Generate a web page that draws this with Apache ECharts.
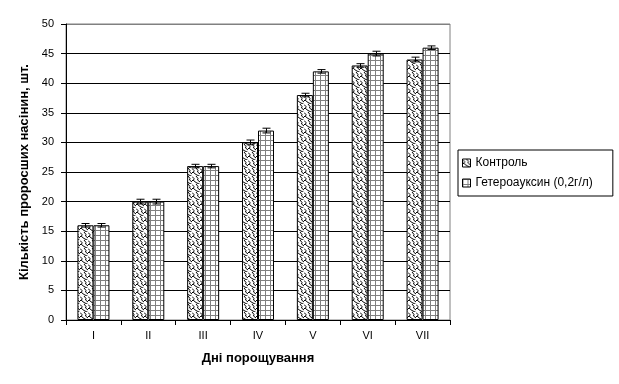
<!DOCTYPE html>
<html><head><meta charset="utf-8">
<script src="https://cdn.jsdelivr.net/npm/echarts@6/dist/echarts.min.js"></script>
<style>html,body{margin:0;padding:0;background:#fff}#c{width:619px;height:384px}</style>
</head><body><div id="c"></div>
<script>
const categories = ['I','II','III','IV','V','VI','VII'];
const control = [16, 20, 26, 30, 38, 43, 44];
const hetero = [16, 20, 26, 32, 42, 45, 46];
const controlErr = [0.3, 0.4, 0.3, 0.4, 0.3, 0.3, 0.4];
const heteroErr = [0.3, 0.4, 0.3, 0.4, 0.3, 0.4, 0.3];
const seriesNames = ['Контроль', 'Гетероауксин (0,2г/л)'];

function wavePattern(){
  const c = document.createElement('canvas'); c.width = 8; c.height = 8;
  const g = c.getContext('2d');
  g.fillStyle = '#fff'; g.fillRect(0,0,8,8);
  g.strokeStyle = '#000'; g.lineWidth = 1;
  g.beginPath();
  g.moveTo(0,0.5); g.lineTo(2,2.5); g.lineTo(1.5,4.5); g.lineTo(4,6.5); g.lineTo(8,8.5);
  g.moveTo(4,0); g.lineTo(6,2.5); g.lineTo(5.5,4); g.lineTo(8,6);
  g.moveTo(0,4.5); g.lineTo(1.5,4.5);
  g.stroke();
  return c;
}
function gridPattern(){
  const c = document.createElement('canvas'); c.width = 5; c.height = 5;
  const g = c.getContext('2d');
  g.fillStyle = '#fff'; g.fillRect(0,0,5,5);
  g.fillStyle = '#808080';
  g.fillRect(0,0,5,1); g.fillRect(0,0,1,5);
  return c;
}
const chart = echarts.init(document.getElementById('c'));
const pats = [{image: wavePattern(), repeat:'repeat'}, {image: gridPattern(), repeat:'repeat'}];
const BW = 16;
function errSeries(vals, errs, off){
  return {
    type:'custom', z:10, silent:true,
    data: vals.map((v,i)=>[i, v, errs[i]]),
    renderItem: function(params, api){
      const i = api.value(0), v = api.value(1), e = api.value(2);
      const top = api.coord([i, v+e]), bot = api.coord([i, v-e]);
      const x = Math.round(top[0] + off) + 0.5;
      const st = {stroke:'#000', lineWidth:1};
      return {type:'group', children:[
        {type:'line', shape:{x1:x, y1:top[1], x2:x, y2:bot[1]}, style:st},
        {type:'line', shape:{x1:x-4, y1:top[1], x2:x+4, y2:top[1]}, style:st},
        {type:'line', shape:{x1:x-4, y1:bot[1], x2:x+4, y2:bot[1]}, style:st}
      ]};
    }
  };
}
const gridColors = ['#000','#000','#000','#000','#000','#000','#000','#000','#000','#000','#808080'];
chart.setOption({
  animation:false,
  textStyle:{fontFamily:'Liberation Sans, Arial, sans-serif'},
  grid:{left:66, top:24, width:384, height:296, show:true, borderColor:'#808080', borderWidth:1, backgroundColor:'transparent'},
  legend:{
    orient:'vertical', left:458, top:150, itemWidth:8, itemHeight:8, itemGap:8, icon:'rect',
    padding:[7,20,7,4], borderColor:'#000', borderWidth:1, borderRadius:0,
    textStyle:{fontSize:12, color:'#000', fontFamily:'Liberation Sans, Arial, sans-serif'},
    data: seriesNames.map((n,k)=>({name:n, itemStyle:{color:pats[k], borderColor:'#000', borderWidth:1}}))
  },
  xAxis:{
    type:'category', data:categories,
    name:'Дні порощування', nameLocation:'middle', nameGap:32,
    nameTextStyle:{fontSize:13, fontWeight:'bold', color:'#000'},
    axisLine:{lineStyle:{color:'#000'}},
    axisTick:{show:true, length:5, lineStyle:{color:'#000'}},
    axisLabel:{color:'#000', fontSize:11, margin:10}
  },
  yAxis:{
    type:'value', min:0, max:50, interval:5,
    name:'Кількість проросших насінин, шт.', nameLocation:'middle', nameGap:33,
    nameTextStyle:{fontSize:13, fontWeight:'bold', color:'#000'},
    axisLine:{show:true, lineStyle:{color:'#000'}},
    axisTick:{show:true, length:5, lineStyle:{color:'#000'}},
    axisLabel:{color:'#000', fontSize:11, margin:12},
    splitLine:{show:true, lineStyle:{color:gridColors, width:1}}
  },
  series:[
    {name:seriesNames[0], type:'bar', data:control, barWidth:BW, barGap:'0%',
     itemStyle:{color:pats[0], borderColor:'#000', borderWidth:1}},
    {name:seriesNames[1], type:'bar', data:hetero, barWidth:BW, barGap:'0%',
     itemStyle:{color:pats[1], borderColor:'#000', borderWidth:1}},
    errSeries(control, controlErr, -BW/2),
    errSeries(hetero, heteroErr, BW/2)
  ]
});
</script></body></html>
